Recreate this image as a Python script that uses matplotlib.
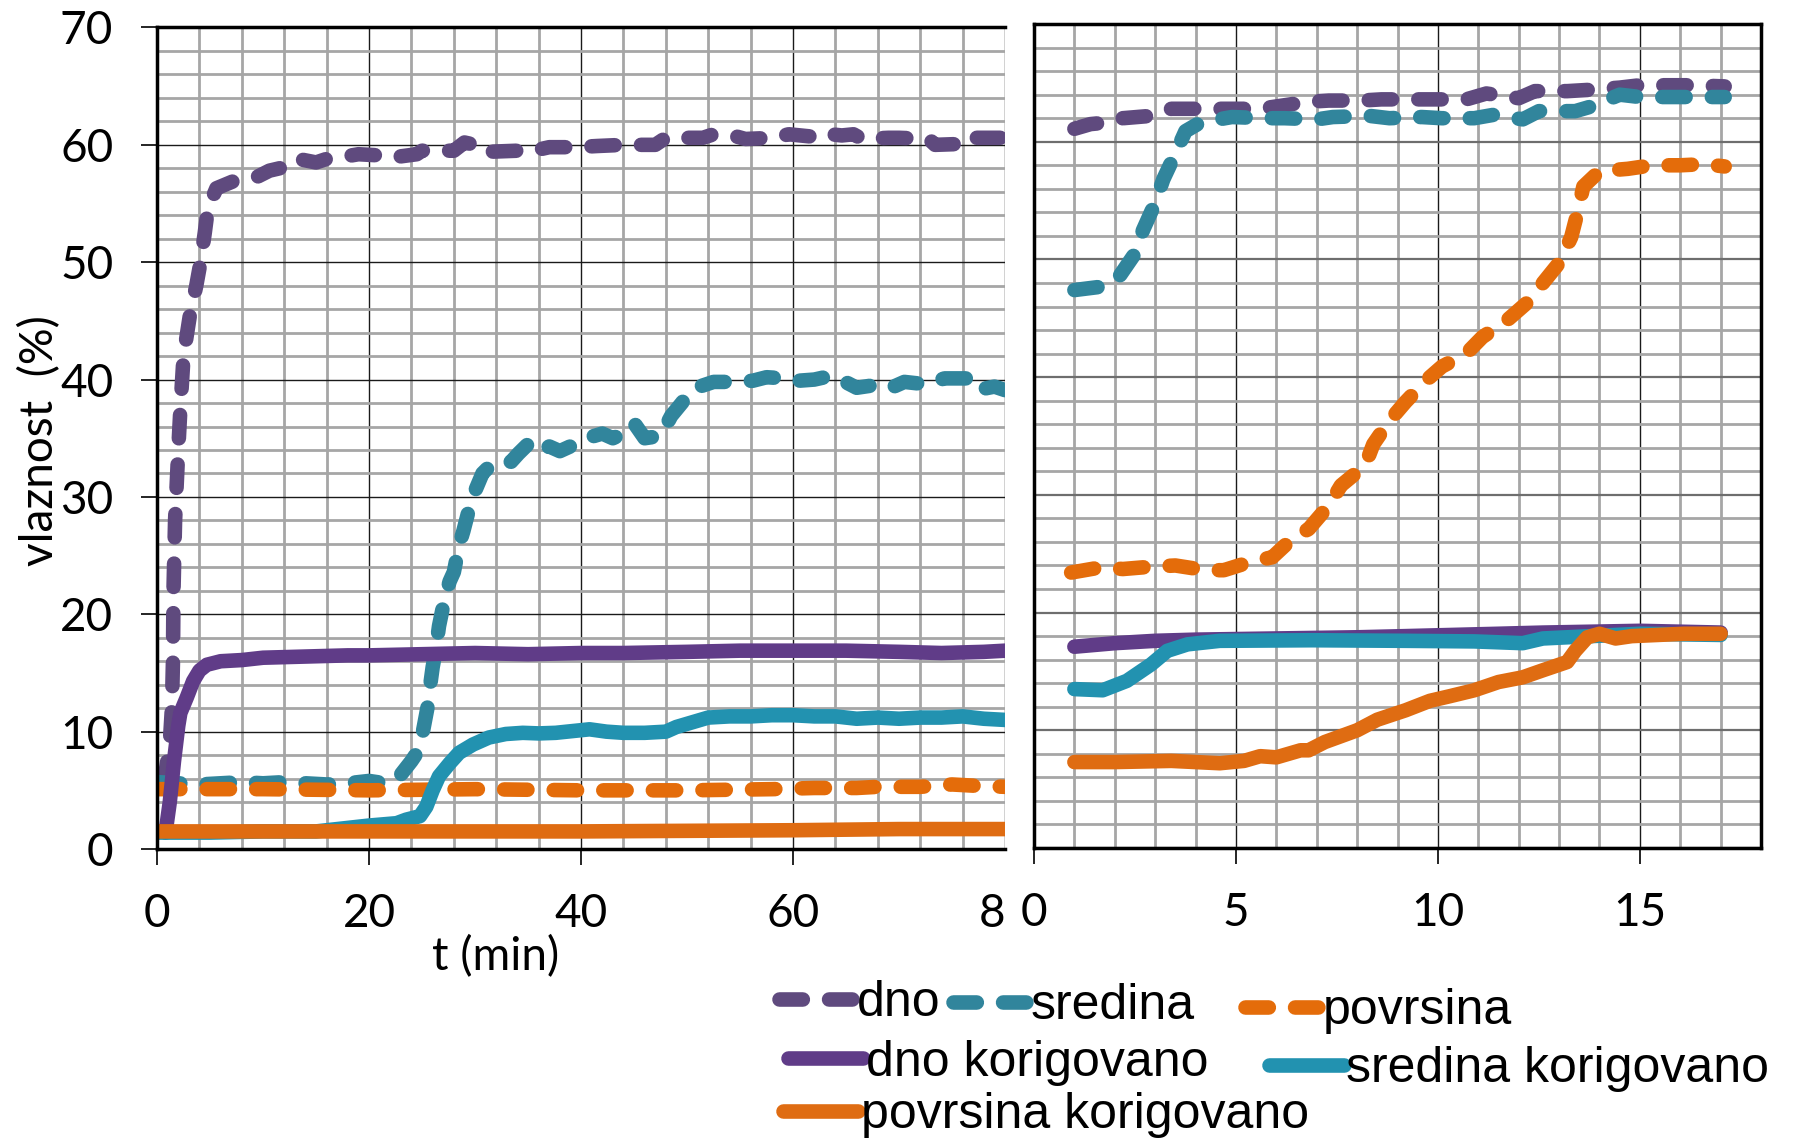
import matplotlib
matplotlib.use('Agg')
import matplotlib.pyplot as plt
from matplotlib.ticker import MultipleLocator
from matplotlib.font_manager import FontProperties

# ---- left panel: whole run, t in min ----
dno_t = [0.5, 0.8, 1.2, 1.4, 1.5, 1.55, 1.7, 1.9, 2.0, 2.2, 2.5, 3.1, 3.7, 4.1, 4.5, 4.8, 5.6,
         7.2, 9.5, 10.6, 12.5, 13.3, 15.0, 16.0, 17.7, 19.0, 21.0, 22.0, 24.5, 25.0, 28.0, 29.0,
         30.5, 31.0, 34.0, 35.0, 37.0, 39.5, 41.5, 44.0, 47.0, 48.0, 51.5, 52.5, 54.7, 55.5,
         58.2, 59.6, 61.8, 62.5, 64.6, 65.7, 66.5, 69.0, 70.0, 72.8, 73.4, 76.6, 77.0, 80.0]
dno = [5.5, 6.5, 9.0, 12.0, 16.0, 22.0, 28.0, 32.0, 34.0, 37.5, 42.0, 45.5, 48.0, 50.0, 52.5, 54.6, 56.3,
       56.9, 57.3, 57.8, 58.2, 58.8, 58.5, 58.8, 59.0, 59.2, 59.1, 58.9, 59.2, 59.5, 59.5, 60.2,
       59.9, 59.4, 59.5, 59.4, 59.8, 59.8, 59.9, 60.0, 60.0, 60.6, 60.6, 60.9, 60.7, 60.5,
       60.6, 60.9, 60.7, 61.0, 60.8, 60.9, 60.5, 60.6, 60.6, 60.5, 60.0, 60.1, 60.6, 60.6]

sredina_t = [0, 2, 4, 6, 8, 10, 12, 14, 16, 18, 20, 21.5, 22.7, 24.0, 24.6, 25.1, 25.5, 25.7, 26.0,
             26.3, 26.6, 27.1, 27.6, 28.0, 28.5, 28.9, 29.5, 30.0, 30.7, 31.7, 33.4, 34.1, 35.0,
             36.0, 37.0, 38.0, 39.7, 40.5, 42.0, 43.0, 44.2, 45.0, 46.0, 47.5, 48.5, 49.5, 50.5,
             52.5, 54.0, 56.2, 57.5, 59.2, 60.5, 62.0, 63.5, 64.5, 66.0, 67.5, 69.0, 70.5, 72.5,
             74.3, 76.5, 77.3, 79.0, 80.0]
sredina = [5.7, 5.6, 5.5, 5.6, 5.7, 5.6, 5.7, 5.6, 5.5, 5.6, 5.8, 5.6, 6.0, 7.5, 8.3, 10.1, 12.0, 13.5, 15.5,
           17.0, 19.0, 21.2, 22.8, 23.6, 25.9, 27.1, 29.2, 30.5, 32.0, 32.9, 33.0, 33.7, 34.5,
           33.8, 34.3, 33.9, 34.6, 35.0, 35.4, 35.0, 35.5, 36.3, 35.0, 35.2, 36.9, 38.0, 39.2,
           39.8, 39.8, 39.9, 40.2, 40.1, 39.9, 40.0, 40.3, 40.0, 39.3, 39.5, 39.2, 39.8, 39.6,
           40.1, 40.1, 39.1, 39.4, 39.1]

povrsina_t = [0, 10, 20, 30, 40, 50, 58, 62, 66, 68, 72, 75, 77, 80]
povrsina = [5.1, 5.1, 5.0, 5.1, 5.0, 5.0, 5.1, 5.2, 5.2, 5.3, 5.3, 5.5, 5.4, 5.3]

dno_k_t = [0.8, 1.2, 1.6, 2.0, 2.2, 2.8, 3.4, 4.0, 4.7, 6, 8, 10, 14, 18, 20, 25, 30, 35, 40, 44,
           50, 55, 60, 65, 70, 74, 78, 80]
dno_k = [1.4, 4.0, 7.5, 10.5, 11.6, 12.9, 14.3, 15.2, 15.7, 16.0, 16.1, 16.3, 16.4, 16.5, 16.5, 16.6,
         16.7, 16.6, 16.7, 16.7, 16.8, 16.9, 16.9, 16.9, 16.8, 16.7, 16.8, 16.9]

sredina_k_t = [0, 5, 10, 15, 20, 22.6, 23.5, 24.8, 25.4, 26, 26.6, 27.6, 28.5, 29.8, 31.3, 32.9, 34.5,
               36, 37.6, 39.2, 40.8, 42.4, 44, 46, 48, 49, 50.5, 52, 54, 56, 58, 60, 62, 64, 66,
               68, 70, 72, 74, 76, 78, 80]
sredina_k = [1.4, 1.4, 1.5, 1.5, 2.0, 2.2, 2.5, 2.8, 3.6, 5.0, 6.2, 7.3, 8.2, 8.9, 9.5, 9.8, 9.9,
             9.85, 9.9, 10.05, 10.2, 10.0, 9.9, 9.9, 10.0, 10.4, 10.8, 11.2, 11.3, 11.3, 11.4, 11.4,
             11.3, 11.3, 11.1, 11.2, 11.1, 11.2, 11.2, 11.3, 11.1, 11.0]

povrsina_k_t = [0, 20, 40, 60, 70, 80]
povrsina_k = [1.5, 1.5, 1.5, 1.6, 1.7, 1.7]

# ---- right panel: zoom, 0-18 ----
r_dno_t = [1.0, 1.4, 1.7, 2.2, 2.9, 3.4, 4.2, 4.7, 5.6, 6.0, 6.8, 7.3, 8.1, 8.6, 9.5, 9.9, 10.7,
           11.2, 12.0, 12.4, 13.2, 13.7, 14.5, 15.0, 15.8, 16.3, 17.1]
r_dno = [61.1, 61.5, 61.6, 62.0, 62.2, 62.8, 62.8, 62.8, 62.8, 63.0, 63.4, 63.5, 63.5, 63.6, 63.6,
         63.6, 63.6, 64.1, 63.7, 64.3, 64.3, 64.4, 64.6, 64.8, 64.8, 64.8, 64.7]

r_sredina_t = [1.0, 1.7, 2.1, 2.5, 2.7, 3.0, 3.2, 3.5, 3.75, 4.1, 4.4, 4.9, 5.7, 6.2, 7.0, 7.4, 8.3,
               8.8, 9.6, 10.1, 10.9, 11.4, 12.1, 12.5, 13.4, 13.8, 14.5, 15.0, 15.9, 16.3, 17.1]
r_sredina = [47.4, 47.7, 48.5, 50.5, 52.5, 54.8, 56.8, 59.0, 60.9, 61.6, 61.8, 62.1, 62.0, 62.0, 61.9,
             62.1, 62.2, 62.0, 62.1, 62.0, 62.0, 62.3, 61.9, 62.6, 62.6, 63.0, 64.0, 63.8, 63.8,
             63.8, 63.8]

r_povrsina_t = [0.92, 1.67, 2.2, 2.9, 3.5, 4.25, 4.7, 5.35, 5.9, 6.4, 6.8, 7.3, 7.6, 8.2, 8.4, 8.8,
                9.2, 9.7, 10.1, 10.7, 11.1, 11.7, 12.2, 12.6, 13.0, 13.3, 13.45, 13.6, 14.0, 14.7,
                15.3, 16.0, 16.6, 17.1]
r_povrsina = [23.4, 23.85, 23.7, 23.9, 24.0, 23.6, 23.6, 24.3, 24.7, 26.3, 27.1, 29.1, 30.8, 32.5,
              34.3, 36.3, 37.9, 39.7, 40.9, 42.0, 43.4, 44.8, 46.3, 48.0, 49.7, 51.9, 53.9, 56.2,
              57.5, 57.7, 58.0, 58.0, 58.1, 57.9]

r_dno_k_t = [1, 2, 3, 4, 6, 8, 9.2, 11.5, 12.6, 15, 17]
r_dno_k = [17.1, 17.4, 17.6, 17.7, 17.8, 17.9, 18.0, 18.2, 18.3, 18.45, 18.3]

r_sredina_k_t = [1, 1.7, 2.3, 2.9, 3.3, 3.8, 4.6, 6.9, 9.2, 10.9, 12.1, 12.6, 13.8, 15, 17]
r_sredina_k = [13.5, 13.4, 14.2, 15.6, 16.75, 17.3, 17.6, 17.65, 17.6, 17.55, 17.4, 17.8, 18.0, 18.2, 18.1]

r_povrsina_k_t = [1, 2, 3.4, 4.6, 5.2, 5.6, 6.0, 6.6, 6.8, 7.2, 8.0, 8.5, 9.2, 9.8, 10.3, 10.9, 11.5,
                  12.1, 12.6, 13.2, 13.4, 13.7, 14.0, 14.4, 14.8, 16.1, 17.0]
r_povrsina_k = [7.3, 7.3, 7.4, 7.2, 7.4, 7.8, 7.7, 8.3, 8.3, 9.0, 10.0, 10.9, 11.7, 12.5, 12.9, 13.4,
                14.1, 14.5, 15.1, 15.8, 16.75, 17.9, 18.2, 17.8, 18.0, 18.2, 18.2]

labels = ['dno', 'sredina', 'povrsina', 'dno korigovano', 'sredina korigovano', 'povrsina korigovano']
colors = ['#5f4a7e', '#31859c', '#e46c0a', '#603c88', '#2292b0', '#df6c12']

plt.rcParams['font.family'] = ['Lato', 'DejaVu Sans']
plt.rcParams['font.weight'] = 'normal'
plt.rcParams['text.color'] = 'black'
plt.rcParams['xtick.color'] = 'black'
plt.rcParams['ytick.color'] = 'black'

LW = 10.5
DASH = (1.6, 1.8)

fig = plt.figure(figsize=(17.97, 11.45), dpi=100)
ax1 = fig.add_axes([0.0874, 0.2585, 0.4719, 0.7175])
ax2 = fig.add_axes([0.5754, 0.2594, 0.4046, 0.7196])


def style(ax, xmax, xmajor, xminor):
    ax.set_xlim(0, xmax)
    ax.set_ylim(0, 70)
    ax.xaxis.set_major_locator(MultipleLocator(xmajor))
    ax.xaxis.set_minor_locator(MultipleLocator(xminor))
    ax.yaxis.set_major_locator(MultipleLocator(10))
    ax.yaxis.set_minor_locator(MultipleLocator(2))
    ax.grid(which='minor', color='#a6a6a6', lw=2.0)
    ax.grid(which='major', color='#1a1a1a', lw=1.0)
    ax.set_axisbelow(True)
    ax.tick_params(which='minor', length=0)
    ax.tick_params(which='major', direction='out', length=11.5, width=1.2,
                   labelsize=33, pad=20)
    for s in ax.spines.values():
        s.set_linewidth(2.5)
        s.set_color('black')


def draw(ax, series):
    for i, (x, y) in enumerate(series):
        kw = dict(color=colors[i], lw=LW, label=labels[i],
                  solid_capstyle='round', solid_joinstyle='round')
        if i < 3:
            kw.update(dashes=DASH, dash_capstyle='round', dash_joinstyle='round')
        ax.plot(x, y, **kw)


style(ax1, 80, 20, 4)
style(ax2, 18, 5, 1)

draw(ax1, [(dno_t, dno), (sredina_t, sredina), (povrsina_t, povrsina),
           (dno_k_t, dno_k), (sredina_k_t, sredina_k), (povrsina_k_t, povrsina_k)])
draw(ax2, [(r_dno_t, r_dno), (r_sredina_t, r_sredina), (r_povrsina_t, r_povrsina),
           (r_dno_k_t, r_dno_k), (r_sredina_k_t, r_sredina_k), (r_povrsina_k_t, r_povrsina_k)])

# left panel: right edge is cut, "80" shows only its first digit
ax1.spines['right'].set_visible(False)
ax1.set_xticks([0, 20, 40, 60, 80])
ax1.set_xticklabels(['0', '20', '40', '60', '8'])
ax1.get_xticklabels()[-1].set_ha('right')
ax1.xaxis.get_major_ticks()[-1].tick1line.set_visible(False)

# right panel: no y labels, darker horizontal majors
ax2.tick_params(axis='y', which='major', length=0, labelleft=False)
ax2.grid(which='major', axis='y', color='#6e6e6e', lw=1.6)

ax1.text(-0.138, 0.497, 'vlaznost  (%)', rotation=90, transform=ax1.transAxes,
         ha='center', va='center', fontsize=33)
ax1.text(31.9, -0.131, 't (min)', transform=ax1.get_xaxis_transform(),
         ha='center', va='center', fontsize=33)

# legend, laid out in rows like the original
lines = ax1.get_lines()
leg_font = FontProperties(family='Liberation Sans', size=36)
spots = [(0.4336, 0.124), (0.5306, 0.121), (0.6930, 0.117),
         (0.4387, 0.072), (0.7060, 0.066), (0.4360, 0.026)]
for ln, (fx, fy) in zip(lines, spots):
    fig.legend(handles=[ln], labels=[ln.get_label()], loc='center left',
               bbox_to_anchor=(fx, fy), frameon=False, prop=leg_font,
               handlelength=1.5, handletextpad=0.05, borderpad=0, borderaxespad=0)

fig.savefig('out.png', dpi=100)
